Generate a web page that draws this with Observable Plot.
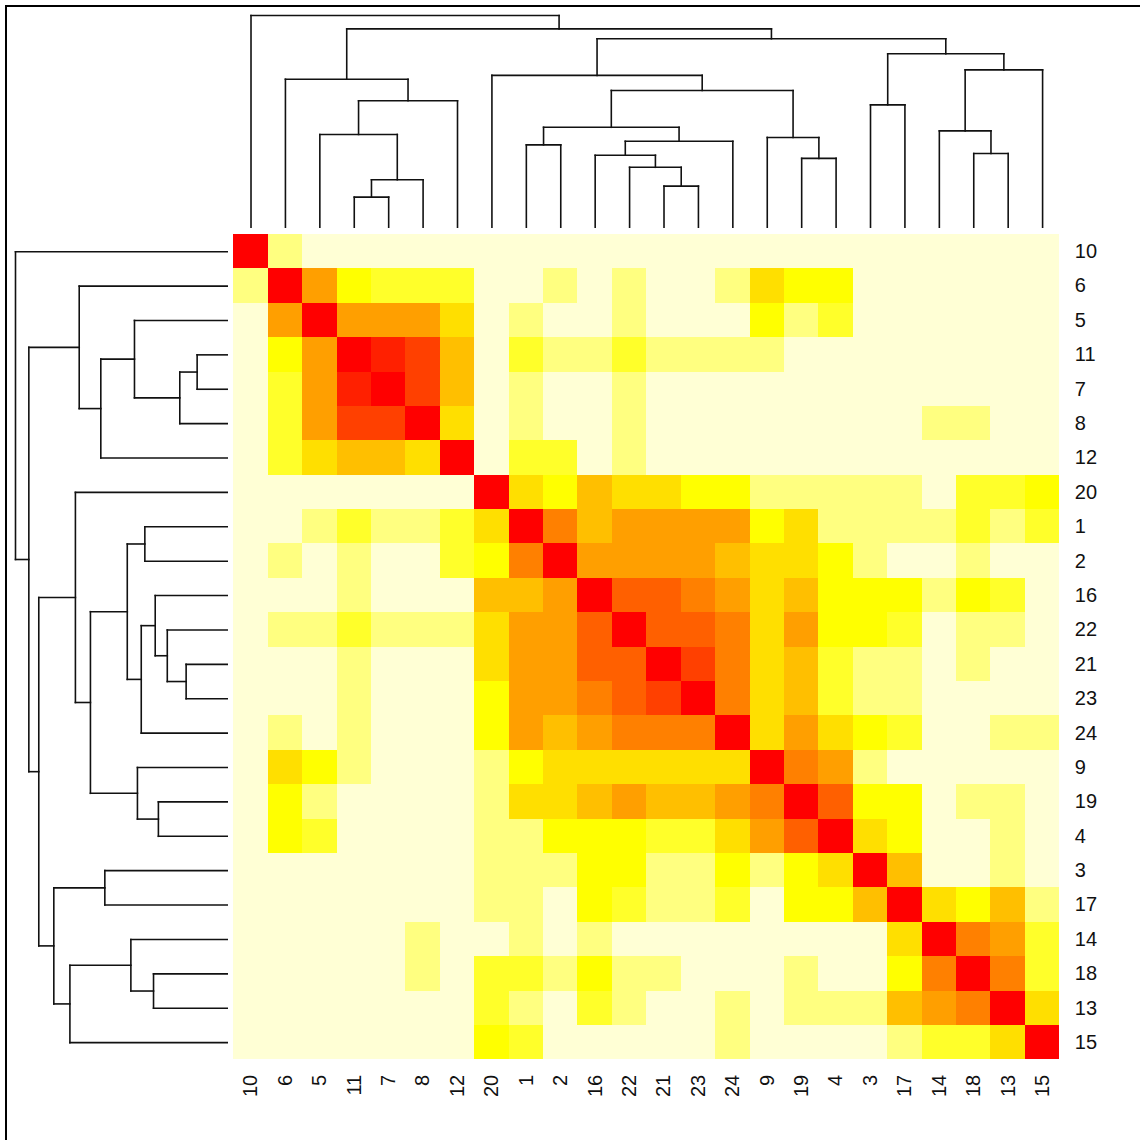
<!DOCTYPE html>
<html><head><meta charset="utf-8">
<script src="https://cdn.jsdelivr.net/npm/d3@7"></script>
<script src="https://cdn.jsdelivr.net/npm/@observablehq/plot@0.6"></script>
<style>
body{margin:0;background:#fff;}
#wrap{position:relative;width:1140px;height:1140px;overflow:hidden;}
#frame{position:absolute;left:5px;top:5px;width:1140px;height:1140px;border-left:2px solid #000;border-top:2px solid #000;box-sizing:border-box;pointer-events:none;}
</style></head>
<body><div id="wrap"><div id="chart"></div><div id="frame"></div></div>
<script>
// leaf order (rows top→bottom, columns left→right)
const labels = ["10","6","5","11","7","8","12","20","1","2","16","22","21","23","24","9","19","4","3","17","14","18","13","15"];

// colour level per cell (0 = palest, 11 = red), rows/cols in label order
const values = [
  [11,1,0,0,0,0,0,0, 0,0,0,0,0,0,0,0, 0,0,0,0,0,0,0,0],
  [1,11,6,3,2,2,2,0, 0,1,0,1,0,0,1,4, 3,3,0,0,0,0,0,0],
  [0,6,11,6,6,6,4,0, 1,0,0,1,0,0,0,3, 1,2,0,0,0,0,0,0],
  [0,3,6,11,10,9,5,0, 2,1,1,2,1,1,1,1, 0,0,0,0,0,0,0,0],
  [0,2,6,10,11,9,5,0, 1,0,0,1,0,0,0,0, 0,0,0,0,0,0,0,0],
  [0,2,6,9,9,11,4,0, 1,0,0,1,0,0,0,0, 0,0,0,0,1,1,0,0],
  [0,2,4,5,5,4,11,0, 2,2,0,1,0,0,0,0, 0,0,0,0,0,0,0,0],
  [0,0,0,0,0,0,0,11, 4,3,5,4,4,3,3,1, 1,1,1,1,0,2,2,3],
  [0,0,1,2,1,1,2,4, 11,7,5,6,6,6,6,3, 4,1,1,1,1,2,1,2],
  [0,1,0,1,0,0,2,3, 7,11,6,6,6,6,5,4, 4,3,1,0,0,1,0,0],
  [0,0,0,1,0,0,0,5, 5,6,11,8,8,7,6,4, 5,3,3,3,1,3,2,0],
  [0,1,1,2,1,1,1,4, 6,6,8,11,8,8,7,4, 6,3,3,2,0,1,1,0],
  [0,0,0,1,0,0,0,4, 6,6,8,8,11,9,7,4, 5,2,1,1,0,1,0,0],
  [0,0,0,1,0,0,0,3, 6,6,7,8,9,11,7,4, 5,2,1,1,0,0,0,0],
  [0,1,0,1,0,0,0,3, 6,5,6,7,7,7,11,4, 6,4,3,2,0,0,1,1],
  [0,4,3,1,0,0,0,1, 3,4,4,4,4,4,4,11, 7,6,1,0,0,0,0,0],
  [0,3,1,0,0,0,0,1, 4,4,5,6,5,5,6,7, 11,8,3,3,0,1,1,0],
  [0,3,2,0,0,0,0,1, 1,3,3,3,2,2,4,6, 8,11,4,3,0,0,1,0],
  [0,0,0,0,0,0,0,1, 1,1,3,3,1,1,3,1, 3,4,11,5,0,0,1,0],
  [0,0,0,0,0,0,0,1, 1,0,3,2,1,1,2,0, 3,3,5,11,4,3,5,1],
  [0,0,0,0,0,1,0,0, 1,0,1,0,0,0,0,0, 0,0,0,4,11,7,6,2],
  [0,0,0,0,0,1,0,2, 2,1,3,1,1,0,0,0, 1,0,0,3,7,11,7,2],
  [0,0,0,0,0,0,0,2, 1,0,2,1,0,0,1,0, 1,1,1,5,6,7,11,4],
  [0,0,0,0,0,0,0,3, 2,0,0,0,0,0,1,0, 0,0,0,1,2,2,4,11]
];

// hclust-style merges: negative = leaf label, positive = earlier merge (1-based)
const merges = [
  [-11,-7],[-21,-23],[1,-8],[-22,2],[-19,-4],[-16,4],[-18,-13],[-1,-2],
  [6,-24],[-9,5],[-5,3],[-14,7],[8,9],[-3,-17],[11,-12],[13,10],
  [-6,15],[-20,16],[12,-15],[14,19],[18,20],[17,21],[-10,22]
];
const mergeHeights = [
  0.142,0.194,0.224,0.283,0.325,0.340,0.348,0.389,
  0.406,0.424,0.438,0.455,0.472,0.578,0.597,0.646,
  0.699,0.717,0.743,0.819,0.890,0.937,1.000
];

const heatColors = ["#FF0000","#FF2000","#FF4000","#FF6000","#FF8000","#FF9F00","#FFBF00","#FFDF00","#FFFF00","#FFFF2A","#FFFF80","#FFFFD5"];
const levels = d3.range(12);

// layout
const W = 1140, H = 1140;
const hmLeft = 233.3, hmRight = 1059.3, hmTop = 234, hmBottom = 1059.3;
const n = labels.length;
const cellW = (hmRight - hmLeft) / n, cellH = (hmBottom - hmTop) / n;
const topH = d3.scaleLinear().domain([0, 1]).range([(226.7 - hmTop) / cellH, (15 - hmTop) / cellH]);
const leftH = d3.scaleLinear().domain([0, 1]).range([(226.7 - hmLeft) / cellW, (15 - hmLeft) / cellW]);

// cells
const cells = values.flatMap((row, i) => row.map((v, j) => ({row: i, col: j, v})));

// dendrogram segments
const pos = new Map(labels.map((l, i) => [+l, i + 0.5]));
const nodes = [];
const segs = [];
merges.forEach(([a, b], k) => {
  const h = mergeHeights[k];
  const get = c => c < 0 ? {p: pos.get(-c), h: 0} : nodes[c - 1];
  const A = get(a), B = get(b);
  segs.push({p1: A.p, h1: A.h, p2: A.p, h2: h});
  segs.push({p1: B.p, h1: B.h, p2: B.p, h2: h});
  segs.push({p1: A.p, h1: h, p2: B.p, h2: h});
  nodes.push({p: (A.p + B.p) / 2, h});
});

const font = "'Liberation Sans', Arial, sans-serif";

const chart = Plot.plot({
  width: W, height: H,
  margin: 0,
  x: {domain: [0, n], range: [hmLeft, hmRight], axis: null},
  y: {domain: [0, n], range: [hmTop, hmBottom], axis: null},
  color: {type: "ordinal", domain: levels, range: heatColors.slice().reverse()},
  style: {fontFamily: font, background: "transparent"},
  marks: [
    Plot.rect(cells, {x1: "col", x2: d => d.col + 1, y1: "row", y2: d => d.row + 1, fill: "v", shapeRendering: "crispEdges"}),
    Plot.link(segs, {x1: "p1", x2: "p2", y1: d => topH(d.h1), y2: d => topH(d.h2), stroke: "#111", strokeWidth: 1.6, strokeLinecap: "square"}),
    Plot.link(segs, {y1: "p1", y2: "p2", x1: d => leftH(d.h1), x2: d => leftH(d.h2), stroke: "#111", strokeWidth: 1.6, strokeLinecap: "square"}),
    Plot.text(labels, {x: () => n, y: (d, i) => i + 0.5, text: d => d, dx: 15, textAnchor: "start", fontSize: 20, fill: "#111"}),
    Plot.text(labels, {y: () => n, x: (d, i) => i + 0.5, text: d => d, dy: 15, rotate: -90, textAnchor: "end", fontSize: 20, fill: "#111"})
  ]
});
document.getElementById("chart").appendChild(chart);
</script>
</body></html>
